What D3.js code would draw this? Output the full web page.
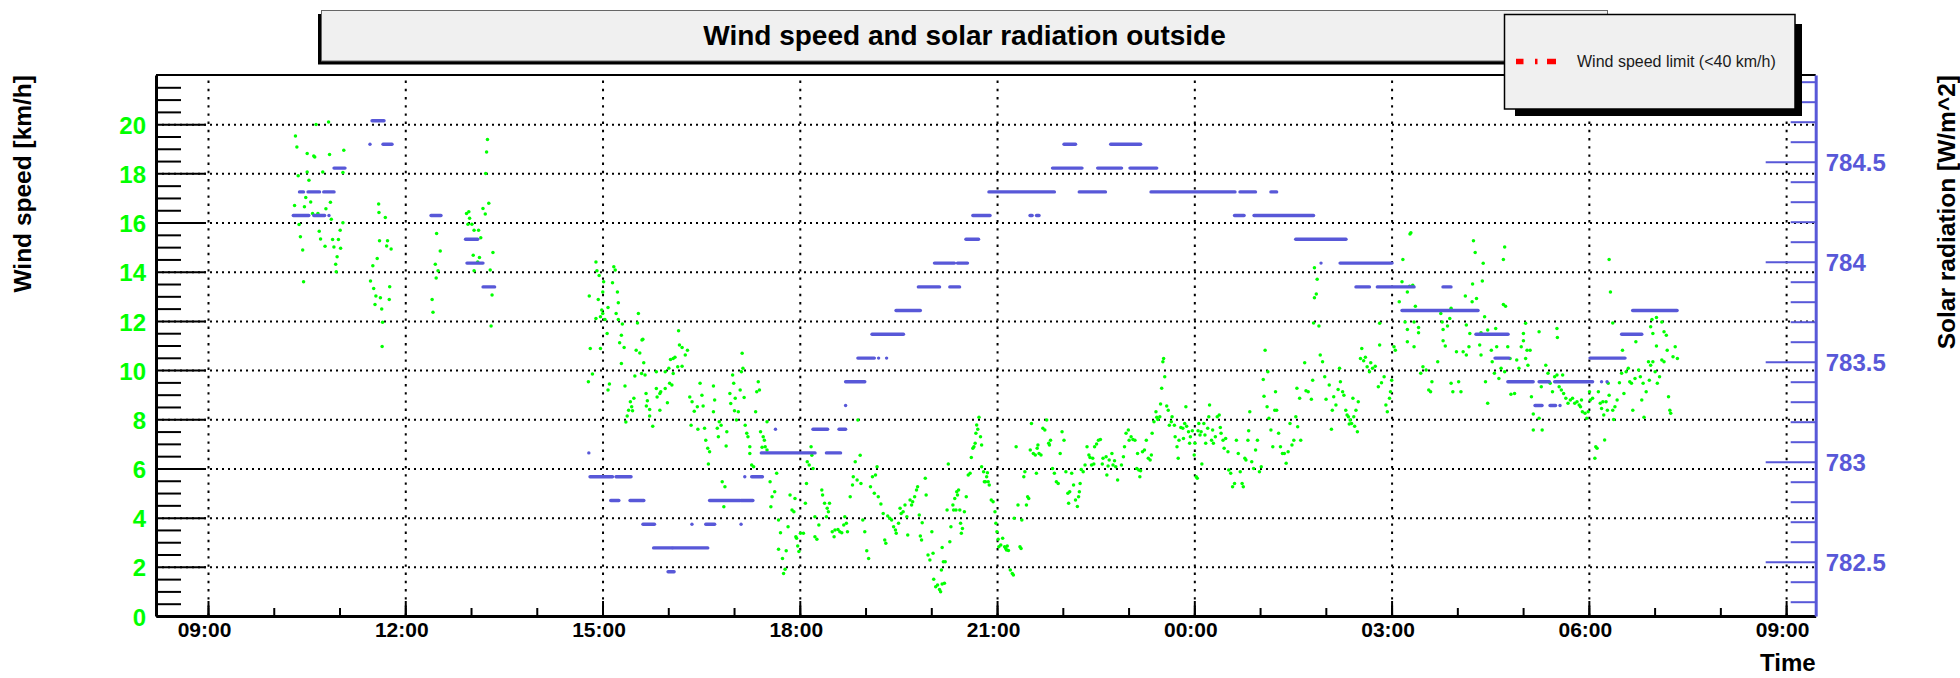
<!DOCTYPE html>
<html>
<head>
<meta charset="utf-8">
<script src="https://cdnjs.cloudflare.com/ajax/libs/d3/7.8.5/d3.min.js"></script>
<style>
  html, body { margin: 0; padding: 0; background: #ffffff; }
  svg { display: block; font-family: "Liberation Sans", Arial, Helvetica, sans-serif; }
</style>
</head>
<body>
<svg id="chart" width="1960" height="678"></svg>
<script>
// Wind speed samples: [minutes after 09:00 of the first day, km/h]
const windSpeed = [
  [79.8,19.52],[81.1,19.07],[82.3,17.90],[90.5,18.81],[96.5,18.71],[97.4,18.67],[98.6,19.99],[110,20.09],[110.9,18.77],[123.9,18.94],
  [123.1,18.04],[104.7,18.06],[90.5,18.06],[92.1,17.72],[89.2,17.02],[93.7,16.84],[79,16.69],[88,16.64],[100.3,16.37],[112.5,16.13],
  [123.1,15.99],[107.6,16.56],[111.7,16.83],[83.1,15.92],[84.3,15.42],[86.4,14.88],[101.5,15.65],[102.7,15.33],[106.8,15.04],[113.7,15.31],
  [114.9,15.01],[119,15.31],[120.6,15.69],[121,14.95],[117.8,14.61],[116.5,14.30],[117,14.00],[87.2,13.59],[95.4,16.37],
  [155.7,16.75],[156,16.41],[161.8,16.21],[156.5,15.26],[163.8,15.26],[163,15.05],[167.1,14.92],[154.4,14.54],[150.4,14.24],[148.3,13.62],
  [151.2,13.32],[153.2,13.01],[157.3,12.94],[152.4,12.67],[158.5,12.48],[165.8,13.39],[165.4,12.87],[159.3,11.95],[158.9,10.96],
  [208.6,15.55],[211.9,14.84],[207.4,14.30],[209.9,14.04],[208.2,13.75],[204.5,12.87],[205.3,12.35],
  [235.9,16.37],[238,16.44],[238.7,16.17],[237.2,15.93],[240.8,15.93],[242.8,15.69],[246.9,15.69],[248.9,15.38],[242,14.67],[247.7,14.58],
  [246.1,14.40],[242.8,14.04],[250.9,16.57],[253,16.35],[256.2,16.78],[255,19.38],[254.2,18.87],[253.4,17.99],[260,14.78],[257.5,14.07],
  [259.2,13.05],[258.3,11.79],
  [354,14.40],[354.9,14.04],[356.9,13.85],[361,13.59],[360.2,13.18],[356.1,12.87],[359.3,12.44],[360.2,12.30],[358.1,12.17],[354,12.10],
  [347.9,13.01],[362.2,12.06],[365,12.55],[369.1,13.55],[370.3,14.20],[371.6,14.07],[373.6,13.18],[374.4,12.74],[372.4,12.30],[374.4,12.06],
  [378.1,11.87],[377.2,11.42],[364.2,11.49],[392.7,12.30],[391.9,11.92],[396.8,11.25],[429.4,11.60],
  [348.8,10.88],[358.1,10.88],[375.6,11.11],[379.7,10.92],[390.7,10.81],[394,10.70],[396,11.22],[430.2,11.02],[432.6,10.92],[437.5,10.81],
  [435.5,10.61],[426.1,10.52],[424.5,10.47],[422,10.43],[428.6,10.14],[432.6,10.16],[420.5,10.07],[377.2,10.27],[397.6,10.30],[347.1,9.53],
  [350.8,9.84],[366.3,9.43],[365,9.19],[380.5,9.35],[389.5,9.76],[395.6,9.86],[398.8,9.80],[409.1,9.93],[417.2,9.93],[424.5,9.86],
  [421.2,9.46],[423.3,9.39],[417.2,9.25],[409.1,9.25],[413.1,9.12],[412.3,9.05],[409.8,8.91],[399.7,9.05],[419.2,8.67],[400.9,8.75],
  [388.6,8.85],[385.4,8.71],[386.6,8.51],[383.8,8.37],[382.5,8.13],[381.3,7.89],[387.4,8.35],[400,8.54],[403,8.40],[412.3,8.37],
  [405.8,7.72],[403,8.13],[439.6,8.91],[441.7,8.71],[446.5,8.51],[440.8,7.76],[447,7.59],[443.7,8.33],
  [449,9.46],[450.7,8.98],[451.8,8.54],[453.1,7.63],[454.2,7.15],[456,6.82],[457.7,6.68],[456.6,6.18],[461.2,9.35],[462.3,8.78],
  [461.2,8.31],[464.7,7.63],[465.7,7.29],[466.5,7.90],[468.2,7.76],[469.2,5.46],[471.7,5.26],[470.7,4.44],[472.8,6.91],[473.4,7.49],
  [476.2,9.05],[477,8.64],[478.7,9.80],[479.7,9.46],[481.1,8.85],[482.2,7.97],[480.4,8.35],[483.9,8.31],[485.6,9.19],[486.7,9.93],
  [487.4,10.68],[488.1,10.07],[489.2,8.89],[490.2,7.76],[491.6,7.43],[492.7,7.29],[494.4,6.88],[494.4,6.61],[496.1,6.14],[497.9,6.07],
  [499.7,8.31],[500.7,9.12],[503.2,9.19],[502.1,9.53],[504.2,7.49],[505.6,6.86],[506.6,7.29],[507.7,7.15],[508.4,6.88],[510.1,6.75],
  [510.1,7.90],[512.9,5.46],[513.6,4.44],[514.7,4.85],[517.1,5.05],[518.9,5.80],[520.6,3.90],[520.6,2.71],[522.4,3.39],[524.2,2.34],
  [525.2,1.73],[526.6,1.90],[527.6,2.65],[529.3,3.63],[531.1,4.92],[532.9,4.31],[534.6,4.24],[535.6,4.78],[536.4,3.22],[537.1,3.16],
  [538.1,2.85],[539.2,2.62],[540.6,3.36],[543.3,3.36],[545.1,4.58],[546.1,5.39],[546.8,6.27],[548.6,6.14],[550.3,6.88],[551,6.54],
  [552.1,6.00],
  [553.8,3.22],[555.6,3.12],[553.8,4.04],[557.4,3.70],[560.1,5.12],[560.8,4.92],[562.6,4.58],[565,4.38],[566.1,4.24],[564.3,4.04],
  [567.1,4.58],[569.6,3.43],[571.3,3.22],[572.1,3.50],[574.8,3.52],[576.5,3.43],[578.3,3.39],[580.1,3.70],[581.1,4.04],[582.5,3.77],
  [583.5,3.43],[586,4.85],[588.1,5.33],[588.8,5.66],[590.6,6.27],[592.3,5.53],[593,7.97],[595.1,6.54],[595.8,5.39],[597.5,3.90],
  [599.3,3.43],[601.1,2.65],[602.8,2.34],[604.5,5.26],[606.3,5.66],[609.1,5.73],[610.5,6.07],[608,4.99],[611.6,4.85],[614,4.55],
  [616.1,4.17],[617.5,3.09],[618.5,2.96],[620.2,4.07],[622.1,3.97],[623.8,3.90],[625.6,3.63],[627.3,3.50],[628,3.36],[630.1,3.77],
  [631.5,4.38],[632.5,4.17],[634.3,4.24],[636,4.51],[637.7,4.04],[638.5,3.29],[640.6,4.72],[642,4.51],[643,4.65],[644.8,4.85],
  [646.5,5.12],[647.5,5.26],[649,4.11],[650,3.25],[651.1,3.09],[651.7,3.79],[654.5,5.60],[655.3,4.92],[657,2.48],[658.7,2.28],
  [660.5,3.43],[661.6,2.55],
  [662.2,1.49],[664,1.19],[665.7,1.26],[667.5,1.08],[668.5,0.99],[669.9,1.30],[672,1.33],[669.2,1.87],[671,2.21],[669.9,2.79],
  [672.7,2.21],[675.5,6.18],[674.4,4.31],[676.9,3.02],[677.9,3.63],[679.7,4.51],[680.4,4.31],[682.5,4.31],[681.4,4.78],[683.2,5.05],
  [683.9,4.92],[684.9,5.12],[686,4.31],[686.7,3.77],[687.4,3.36],[688.4,3.56],[690.2,4.24],[691.9,4.85],[693.7,5.73],[695.4,5.80],
  [696.5,6.45],[697.9,6.82],[698.9,6.88],[700,7.02],[700.7,7.43],[701.4,7.77],[702.4,7.59],[703.5,8.08],[704.9,7.29],[705.9,6.95],
  [705.9,6.07],[707.7,5.87],[708.4,5.46],[709.4,5.46],[710.5,5.66],[711.2,5.83],[711.9,5.46],[712.9,5.33],[714.7,4.72],[716.4,4.65],
  [718.1,4.24],[718.9,3.77],[719.9,3.43],[721,3.12],[721.6,2.82],[723.4,2.89],[725.1,3.16],[726.9,2.82],[727.9,2.75],[728.6,2.68],
  [729.3,2.85],[730.4,2.66],[732.1,1.87],[733.9,1.73],[734.9,1.67],[735.6,3.97],[737.4,6.88],[739.1,4.51],[740.9,2.82],[741.9,2.75],
  [742.6,3.90],[744.4,5.66],[745.4,5.87],[746.8,4.51],[747.9,4.85],[748.9,4.78],[750.3,6.75],[751.4,7.83],[753.1,6.61],[754.9,6.55],
  [755.9,5.80],[756.6,6.82],[757.3,6.95],[758.3,6.61],[760.1,6.55],[761.8,7.63],[763.6,7.56],[765.3,7.97],[767.1,7.02],[767.8,6.95],
  [768.8,7.15],[770.6,6.00],[772.3,5.80],[774.1,5.46],[775.8,5.39],[777.6,6.61],[779.3,7.49],[781.1,7.15],[782.8,5.87],[784.6,4.99],
  [785.3,4.58],[786.3,5.05],[788.1,5.80],[789.8,5.33],[791.6,4.72],[793.3,4.45],[794.4,4.85],[795.1,5.05],[795.8,5.39],[796.8,5.96],
  [798.6,5.87],[800.3,6.14],[802.1,6.88],[803.8,6.55],[804.8,6.45],[806.2,6.14],[807.3,6.41],[808.3,6.18],[809,6.88],[810.8,6.99],
  [812.5,7.15],[814.3,7.18],[816,6.18],[816.7,6.41],[819.5,6.48],[820.2,5.73],[821.3,6.10],[822.3,6.34],[824.8,6.61],[825.8,6.14],
  [827.2,6.31],[828.3,6.07],[830,5.53],[833.5,6.14],[835.3,6.48],[836.3,6.88],[837.7,7.43],[839.8,7.56],[840.5,7.15],[842.3,7.29],
  [844,7.18],[845.8,7.15],[847.5,6.00],[848.2,6.61],[849.3,5.94],[850.3,5.66],[851,5.91],[852.7,6.68],[854.5,6.75],[856.2,7.15],
  [858,6.41],[859.7,6.34],[860.8,6.55],[861.5,7.43],[863.2,7.90],[865,8.31],[865.7,8.08],[866.7,7.99],[868.5,8.10],[869.2,8.62],
  [870.2,9.26],[871.3,10.34],[872,10.47],[873,9.73],[874.8,8.54],[876.2,8.37],[877.2,7.76],[879,7.90],[879.7,8.10],[881.8,7.76],
  [882.5,7.29],[884.2,6.88],[885.3,6.41],[886,7.15],[887.7,7.67],[889.5,7.63],[890.1,7.22],[891.2,7.83],[892.3,8.51],[893,7.72],
  [894.7,7.49],[895.7,7.02],[896.4,7.29],[898.2,7.53],[899.9,6.55],[900.6,7.02],[901.7,5.66],[902.7,5.60],[903.4,7.53],[904.1,7.83],
  [905.2,7.36],[906.2,7.49],[906.9,6.18],[908.7,7.83],[909.7,7.36],[910.4,7.02],[912.2,7.63],[913.2,8.10],[913.9,8.58],[915.7,7.15],
  [916.7,7.56],[917.4,7.02],[919.2,7.29],[920.9,8.10],[922.7,8.17],[923.7,7.67],[924.4,7.43],[926.2,7.15],[927.2,6.82],[928.6,7.22],
  [930.7,6.68],[931.4,5.94],[933.2,5.80],[934.9,5.26],[936.7,5.39],[938.4,7.15],[940.1,6.61],[941.9,5.87],[943.6,5.39],[944.7,5.26],
  [946.1,6.41],[947.1,6.34],[948.9,7.15],[949.6,7.53],[950.6,8.31],[952.4,6.27],[954.1,6.00],[955.9,6.75],[957.6,7.15],[959.4,5.87],
  [961.1,6.07],[962.9,9.62],[963.6,8.94],[964.6,10.81],[966.4,8.51],[967.1,9.93],[968.1,8.04],[969.9,7.56],[971.6,6.88],[973.4,8.37],
  [974.1,9.12],[975.1,8.37],[976.9,7.43],[978.6,6.88],[980.4,6.61],[982.1,6.61],[983.8,6.21],[985.6,6.68],[987.3,7.83],[989.1,6.95],
  [990.8,7.15],[992.6,8.10],[993.6,9.26],[994.3,7.70],[996.1,8.85],[997.1,7.15],
  [1000.7,10.30],[1001.9,9.16],[1003.9,9.12],[1008,9.59],[1006.8,8.81],[1014.9,10.61],[1017,10.34],[1019,9.73],[1020.2,8.81],[1023.1,9.39],
  [1025.1,7.59],[1025.9,8.37],[1027.2,8.92],[1029.2,8.58],[1031.2,9.21],[1032.5,10.07],[1033.3,9.53],[1035.3,9.12],[1036.5,8.98],[1038.2,8.37],
  [1039.4,8.17],[1040.6,8.10],[1041.4,7.81],[1042.2,7.97],[1043.5,7.83],[1044.7,8.85],[1045.5,8.10],[1046.3,7.72],[1047.5,8.37],[1048.8,7.49],
  [1049.6,8.71],[1051.6,10.47],[1052.8,10.88],[1054.5,10.38],[1056.1,10.52],[1057.7,10.14],[1059.8,9.93],[1061,10.30],[1062.6,10.07],[1065.1,10.16],
  [1067.9,9.32],[1069.1,11.02],[1070.8,9.49],[1073.2,9.73],[1074.8,8.58],[1076.1,8.31],[1078.1,8.85],[1079,9.12],[1080.1,9.59],[1082.2,10.95],
  [1083.4,10.81],
  [1094.4,11.15],[1100.5,10.95],[1106.6,9.87],[1108.6,10.14],[1111.5,10.00],[1113.9,9.19],[1115.6,9.12],[1116.8,9.53],[1122.1,10.34],[1127,11.19],
  [1129,10.98],[1134.3,9.46],[1135.9,9.12],[1139.2,10.75],[1141.2,9.53],[1143.3,9.12],[1145.3,10.75],[1148.2,10.61],[1150.6,10.95],[1160.4,11.02],
  [1161.6,10.61],[1165.7,9.53],[1167.7,8.65],[1171,10.81],[1171.8,10.34],[1173.8,9.87],[1175.9,10.95],[1177.9,9.66],[1179.9,10.07],[1183.2,9.93],
  [1186,10.95],[1188.1,10.47],[1188.9,9.02],[1192.2,9.05],[1194.2,10.41],[1196.2,10.07],[1198.3,10.95],[1200.3,11.19],[1202.3,10.47],[1203.6,10.81],
  [1204.4,10.20],[1206.4,10.81],[1207.6,8.92],[1209.3,8.21],[1209.3,7.56],[1214.6,8.04],[1217.4,7.56],[1216.6,9.32],[1220.7,10.20],[1222.7,9.87],
  [1224.7,9.46],[1226.8,9.12],[1228.8,9.73],[1230.9,9.80],[1232.9,9.32],[1234.9,9.19],[1236.1,9.80],[1237,9.05],[1239,8.85],[1241,8.65],
  [1243.1,8.78],[1245.1,8.85],[1247.1,8.65],[1249.2,8.71],[1251.2,8.58],[1253.3,8.78],[1252.4,8.51],[1254.1,8.31],[1256.5,8.24],[1258.1,8.04],
  [1260.6,9.12],[1259.4,8.31],[1261.4,8.78],[1263.4,8.85],[1265.5,6.41],[1266.3,6.88],[1267.5,6.82],[1268.7,9.12],[1270.4,8.65],[1271.6,8.44],
  [1272.8,8.71],[1273.6,8.17],[1274.4,7.16],[1275.7,8.71],[1276.9,8.37],[1277.7,9.46],[1278.5,8.98],[1281.8,8.37],[1282.6,7.99],[1283.8,8.51],
  [1285.8,8.78],[1287.9,9.49],[1289.9,9.87],[1290.7,10.81],[1292,9.05],[1294,9.93],[1296,10.07],[1297.3,9.53],[1298.9,9.46],[1300.1,8.37],
  [1302.1,9.66],[1302.9,11.15],[1305.4,10.00],[1307,9.73],[1308.3,8.78],[1309.5,9.46],[1310.3,8.08],[1312.3,9.12],[1314.4,10.34],[1315.2,9.59],
  [1316.4,10.20],[1318.4,10.34],[1320.5,9.93],[1321.7,10.98],[1322.5,9.46],[1324.5,9.73],[1326.6,10.41],[1328.6,10.34],[1331.5,10.81],[1332.7,8.92],
  [1333.9,8.37],[1334.7,8.24],[1336.8,10.54],[1338.8,10.95],[1340.8,10.47],
  [1009.6,14.16],[1012.1,13.69],[1011.3,13.09],[1009.6,12.94],[1008.8,11.92],[1013.7,11.79],[1069.1,11.90],[1090.3,14.50],[1089.5,13.59],[1087,12.78],
  [1094.4,13.18],[1096.4,13.41],[1099.3,13.45],[1101.7,12.60],[1092.3,11.96],[1094.4,11.65],[1100.5,11.96],[1104.6,11.73],[1104.6,11.52],[1097.6,15.58],
  [1096.8,15.53],[1154.7,15.26],[1156.3,14.78],[1163.6,14.34],[1153.9,13.50],[1162.8,13.62],[1182,14.50],[1183.2,15.01],[1182,12.67],[1184,12.60],
  [1147.3,13.01],[1153.5,12.78],[1157.5,12.91],[1164.9,12.17],[1124.9,12.30],[1134.3,12.51],[1133.1,12.10],[1126.2,11.96],[1127,11.65],[1131,11.79],
  [1148.2,11.83],[1151.4,11.49],[1161.6,11.52],[1167.7,11.63],[1175,11.69],[1202.3,11.90],[1200.3,11.49],[1214.6,11.56],[1230.9,11.69],[1231.3,11.33],
  [1278.5,14.50],[1279.7,13.18],[1281.8,11.92],[1317.6,12.06],[1321.7,12.14],[1326.6,11.96],[1328.6,11.56],[1330.7,11.42],[1316.4,11.76],[1318.4,11.49]
];

// Solar radiation readings, grouped into runs of an unchanged reading:
// [first minute, last minute, W/m^2] (minutes after 09:00 of the first day)
const radiationRuns = [
  [77.8,92.0,784.231],[96.5,106.4,784.231],[110.4,110.4,784.231],
  [83.5,87.1,784.349],[91.3,101.8,784.349],[105.6,115,784.349],
  [115,125,784.468],
  [147.8,147.8,784.587],[159.7,167.9,784.587],
  [149.7,160.6,784.705],
  [203.5,212.6,784.231],
  [235,246.1,784.112],
  [236.3,250.9,783.993],
  [251,261.5,783.874],
  [347.5,347.5,783.044],
  [348.6,369.1,782.925],[372.3,386,782.925],
  [367.5,374.9,782.806],[385.1,397.7,782.806],
  [396.9,407.4,782.687],[441.6,441.6,782.687],
  [406.6,423.4,782.569],[424.3,456,782.569],
  [419.8,425.3,782.450],
  [454.2,462.3,782.687],[486.4,486.4,782.687],
  [457.7,485.6,782.806],[486.4,497.2,782.806],
  [489.8,489.8,782.925],[496.1,505.9,782.925],
  [504.9,553.9,783.044],[564.3,577.2,783.044],
  [517.8,517.8,783.162],[552,565.4,783.162],[575.8,581.8,783.162],
  [581.8,581.8,783.281],
  [581.8,599.3,783.400],
  [593,608,783.518],[611.9,611.9,783.518],[619.2,619.2,783.518],
  [605.9,634.6,783.637],
  [627.8,650,783.756],
  [648.2,667.5,783.874],[676.9,685.8,783.874],
  [662.9,681.1,783.993],[683.9,693,783.993],
  [691.6,703.1,784.112],
  [697.9,713.6,784.231],[750.1,752,784.231],[756,758.3,784.231],
  [712.6,772.3,784.349],[795,818.9,784.349],[860.5,937.1,784.349],[941.7,955.8,784.349],[969.9,975.1,784.349],
  [770.6,797.5,784.468],[811.8,833.6,784.468],[841.3,865.7,784.468],
  [781.1,791.6,784.587],[823.7,851,784.587],
  [936.7,945.4,784.231],[954.5,1008.8,784.231],
  [992.5,1038.4,784.112],
  [1015.6,1015.6,783.993],[1033,1080.4,783.993],
  [1047.5,1059.8,783.874],[1067,1100.5,783.874],[1126.9,1134.2,783.874],
  [1089.5,1158.9,783.756],[1300,1340.5,783.756],
  [1157,1186.3,783.637],[1289.9,1308.3,783.637],
  [1174.4,1187.2,783.518],[1261.1,1293,783.518],
  [1186.1,1209.2,783.400],[1214.6,1224,783.400],[1228.8,1263.4,783.400],[1271.6,1271.6,783.400],[1276.6,1276.6,783.400],
  [1210.9,1217.3,783.281],[1224.6,1229.6,783.281],[1233.7,1233.7,783.281]
];

// Axis ranges and labelled ticks
const timeRangeMin = [-47.45, 1467];        // minutes after 09:00 of the first day
const windRange = [0, 22];
const windTicks = [2, 4, 6, 8, 10, 12, 14, 16, 18, 20];
const windLabelTicks = [0, 2, 4, 6, 8, 10, 12, 14, 16, 18, 20];
const radiationRange = [782.2285, 784.9335];
const radiationTicks = [782.5, 783, 783.5, 784, 784.5];

const chartTitle = "Wind speed and solar radiation outside";
const windTitle = "Wind speed [km/h]";
const radiationTitle = "Solar radiation [W/m^2]";
const timeTitle = "Time";
const legendLabel = "Wind speed limit (<40 km/h)";

const GREEN = "#00ff00";
const BLUE = "#5858d8";
const FONT = '"Liberation Sans", Arial, Helvetica, sans-serif';

const frame = { left: 156, right: 1815.7, top: 75, bottom: 616 };
const plotW = frame.right - frame.left;
const plotH = frame.bottom - frame.top;

const start = new Date(2000, 0, 1, 9, 0, 0);
const toDate = m => new Date(start.getTime() + m * 60000);

const x = d3.scaleTime().domain(timeRangeMin.map(toDate)).range([frame.left, frame.right]);
const yL = d3.scaleLinear().domain(windRange).range([frame.bottom, frame.top]);
const yR = d3.scaleLinear().domain(radiationRange).range([frame.bottom, frame.top]);

const svg = d3.select("#chart");

// ---------- dotted grid ----------
const gridV = svg.append("g")
  .attr("transform", `translate(0,${frame.bottom})`)
  .call(d3.axisBottom(x).ticks(d3.timeHour.every(3)).tickSize(-plotH).tickFormat(""));
gridV.select(".domain").remove();
gridV.selectAll("line").attr("stroke", "#000").attr("stroke-width", 2).attr("stroke-dasharray", "2.4,5.8");

const gridH = svg.append("g")
  .attr("transform", `translate(${frame.left},0)`)
  .call(d3.axisLeft(yL).tickValues(windTicks).tickSize(-plotW).tickFormat(""));
gridH.select(".domain").remove();
gridH.selectAll("line").attr("stroke", "#000").attr("stroke-width", 2).attr("stroke-dasharray", "2,4");

// ---------- data ----------
svg.append("g").selectAll("circle")
  .data(windSpeed)
  .join("circle")
  .attr("cx", d => x(toDate(d[0])))
  .attr("cy", d => yL(d[1]))
  .attr("r", 1.75)
  .attr("fill", GREEN);

svg.append("g").selectAll("line")
  .data(radiationRuns)
  .join("line")
  .attr("x1", d => x(toDate(d[0])))
  .attr("x2", d => x(toDate(d[1])) + 0.01)
  .attr("y1", d => yR(d[2]))
  .attr("y2", d => yR(d[2]))
  .attr("stroke", BLUE)
  .attr("stroke-width", 3.4)
  .attr("stroke-linecap", "round");

// ---------- frame top ----------
svg.append("line")
  .attr("x1", frame.left).attr("x2", frame.right)
  .attr("y1", frame.top).attr("y2", frame.top)
  .attr("stroke", "#000").attr("stroke-width", 2);

// ---------- time axis ----------
const xMinor = svg.append("g")
  .attr("transform", `translate(0,${frame.bottom})`)
  .call(d3.axisBottom(x).ticks(d3.timeHour.every(1)).tickSize(-8).tickSizeOuter(0).tickFormat(""));
xMinor.selectAll("line").attr("stroke", "#000").attr("stroke-width", 2);
xMinor.select(".domain").attr("stroke", "#000").attr("stroke-width", 3);

const xMajor = svg.append("g")
  .attr("transform", `translate(0,${frame.bottom})`)
  .call(d3.axisBottom(x).ticks(d3.timeHour.every(3)).tickSize(-15).tickSizeOuter(0)
    .tickFormat(d3.timeFormat("%H:%M")));
xMajor.select(".domain").remove();
xMajor.selectAll("line").attr("stroke", "#000").attr("stroke-width", 2);
xMajor.selectAll("text")
  .attr("y", 21).attr("dy", null).attr("x", -4)
  .attr("fill", "#000")
  .style("font", `bold 21px ${FONT}`);

// ---------- wind speed axis (left) ----------
const windMinor = d3.range(1, 44).map(d => d / 2).filter(v => v % 2 !== 0);
const yLMinor = svg.append("g")
  .attr("transform", `translate(${frame.left},0)`)
  .call(d3.axisLeft(yL).tickValues(windMinor).tickSize(-25).tickSizeOuter(0).tickFormat(""));
yLMinor.selectAll("line").attr("stroke", "#000").attr("stroke-width", 2);
yLMinor.select(".domain").attr("stroke", "#000").attr("stroke-width", 3);

const yLMajor = svg.append("g")
  .attr("transform", `translate(${frame.left},0)`)
  .call(d3.axisLeft(yL).tickValues(windLabelTicks).tickSize(-50).tickSizeOuter(0).tickPadding(10));
yLMajor.select(".domain").remove();
yLMajor.selectAll("line").attr("stroke", "#000").attr("stroke-width", 2);
yLMajor.selectAll("text")
  .attr("dy", "0.38em")
  .attr("fill", GREEN)
  .style("font", `bold 24px ${FONT}`);

// ---------- solar radiation axis (right) ----------
const radMinor = d3.range(7823, 7850).filter(d => d % 5 !== 0).map(d => d / 10);
const yRMinor = svg.append("g")
  .attr("transform", `translate(${frame.right},0)`)
  .call(d3.axisRight(yR).tickValues(radMinor).tickSize(-25).tickSizeOuter(0).tickFormat(""));
yRMinor.selectAll("line").attr("stroke", BLUE).attr("stroke-width", 2);
yRMinor.select(".domain").attr("stroke", BLUE).attr("stroke-width", 3);

const yRMajor = svg.append("g")
  .attr("transform", `translate(${frame.right},0)`)
  .call(d3.axisRight(yR).tickValues(radiationTicks).tickSize(-50).tickSizeOuter(0).tickPadding(10)
    .tickFormat(d3.format("")));
yRMajor.select(".domain").remove();
yRMajor.selectAll("line").attr("stroke", BLUE).attr("stroke-width", 2);
yRMajor.selectAll("text")
  .attr("dy", "0.38em")
  .attr("fill", BLUE)
  .style("font", `bold 24px ${FONT}`);

// ---------- axis titles ----------
svg.append("text")
  .attr("transform", `translate(31,${frame.top}) rotate(-90)`)
  .attr("text-anchor", "end")
  .style("font", `bold 24.5px ${FONT}`)
  .attr("fill", "#000")
  .text(windTitle);

svg.append("text")
  .attr("transform", `translate(1954.5,${frame.top}) rotate(-90)`)
  .attr("text-anchor", "end")
  .style("font", `bold 24.5px ${FONT}`)
  .attr("fill", "#000")
  .text(radiationTitle);

svg.append("text")
  .attr("x", frame.right).attr("y", 671)
  .attr("text-anchor", "end")
  .style("font", `bold 24px ${FONT}`)
  .attr("fill", "#000")
  .text(timeTitle);

// ---------- title box ----------
const titleBox = svg.append("g");
titleBox.append("rect")
  .attr("x", 318).attr("y", 14).attr("width", 1287).attr("height", 50.5)
  .attr("fill", "#000");
titleBox.append("rect")
  .attr("x", 321.5).attr("y", 10.5).attr("width", 1286).attr("height", 50.5)
  .attr("fill", "#f0f0f0").attr("stroke", "#666").attr("stroke-width", 1);
titleBox.append("text")
  .attr("x", 964.5).attr("y", 44.5)
  .attr("text-anchor", "middle")
  .style("font", `bold 28px ${FONT}`)
  .attr("fill", "#000")
  .text(chartTitle);

// ---------- legend ----------
const legend = svg.append("g");
legend.append("rect")
  .attr("x", 1515).attr("y", 24).attr("width", 287).attr("height", 92)
  .attr("fill", "#000");
legend.append("rect")
  .attr("x", 1504.5).attr("y", 14.5).attr("width", 290.5).attr("height", 94.5)
  .attr("fill", "#f0f0f0").attr("stroke", "#000").attr("stroke-width", 1.5);
legend.append("line")
  .attr("x1", 1516).attr("x2", 1556).attr("y1", 61.5).attr("y2", 61.5)
  .attr("stroke", "#ff0000").attr("stroke-width", 5.5)
  .attr("stroke-dasharray", "7.5,11.5,2.5,9.5,9");
legend.append("text")
  .attr("x", 1577).attr("y", 67)
  .style("font", `16px ${FONT}`)
  .attr("fill", "#1a1a1a")
  .text(legendLabel);
</script>
</body>
</html>
